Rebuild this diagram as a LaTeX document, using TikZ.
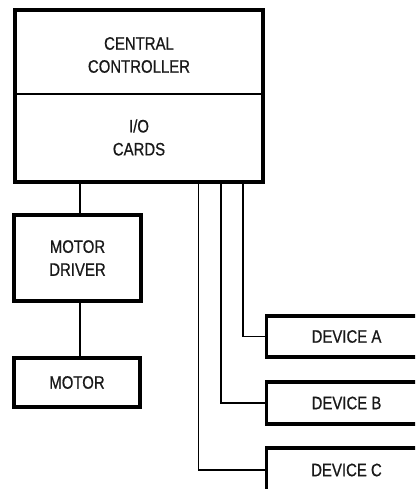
\documentclass[tikz,border=0pt]{standalone}
\usepackage{fontspec}
\setmainfont{Liberation Sans}[FakeStretch=0.83,FakeBold=0.7]
\begin{document}
\begin{tikzpicture}[x=1pt,y=-1pt,
  box/.style={draw=black,line width=3.6pt,rectangle,inner sep=0pt},
  lbl/.style={text=black!90,font=\fontsize{18}{23}\selectfont,align=center,inner sep=0pt},
  wire/.style={draw=black,line width=1.3pt}]
\useasboundingbox (0,0) rectangle (415,489);
\clip (0,0) rectangle (415,489);
% central controller
\node[box,minimum width=248pt,minimum height=172pt] (ctrl) at (139,96) {};
\coordinate (divL) at (15,94);
\coordinate (divR) at (263,94);
\draw[wire] (divL) -- (divR);
\node[lbl] (cctext) at (139,55) {CENTRAL\\CONTROLLER};
\node[lbl] (iotext) at (139,137.5) {I/O\\CARDS};
% motor driver and motor
\node[box,minimum width=127pt,minimum height=86pt,lbl] (drv) at (77.5,258) {MOTOR\\DRIVER};
\node[box,minimum width=126pt,minimum height=49pt,lbl] (mot) at (77,382.5) {MOTOR};
% devices
\node[box,minimum width=160pt,minimum height=41pt,lbl] (devA) at (346.5,336.5) {DEVICE A};
\node[box,minimum width=160pt,minimum height=42pt,lbl] (devB) at (346.5,403) {DEVICE B};
\node[box,minimum width=160pt,minimum height=44pt,lbl] (devC) at (346.5,470) {DEVICE C};
% connectors
\coordinate (tapM) at (80,182);
\coordinate (tapC) at (198.5,182);
\coordinate (tapB) at (221,182);
\coordinate (tapA) at (243,182);
\draw[wire] (tapM) -- (tapM |- drv.north);
\draw[wire] (drv.south -| tapM) -- (mot.north -| tapM);
\draw[wire] (tapA) |- (devA.west);
\draw[wire] (tapB) |- (devB.west);
\draw[wire] (tapC) |- (devC.west);
\end{tikzpicture}
\end{document}
